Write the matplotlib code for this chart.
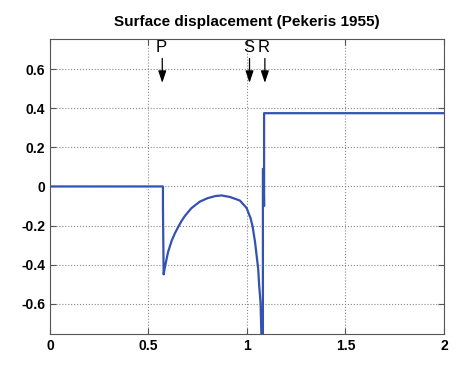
import numpy as np
import matplotlib
matplotlib.use('Agg')
import matplotlib.pyplot as plt

plt.rcParams['font.family'] = ['Liberation Sans', 'DejaVu Sans']

# surface displacement
xs = [0.0, 0.5735, 0.5735, 0.577, 0.582, 0.599, 0.618, 0.634, 0.650, 0.666,
      0.684, 0.717, 0.760, 0.800, 0.840, 0.871, 0.914, 0.964, 0.998, 1.019,
      1.029, 1.041, 1.049, 1.057, 1.062, 1.069, 1.073, 1.076, 1.081, 1.081,
      1.084, 1.087, 1.087, 2.0]
ys = [0.0, 0.0, -0.11, -0.45, -0.42, -0.337, -0.277, -0.24, -0.209, -0.18,
      -0.152, -0.112, -0.078, -0.06, -0.049, -0.046, -0.054, -0.072, -0.11, -0.164,
      -0.207, -0.284, -0.353, -0.421, -0.507, -0.593, -0.75, -1.0, -1.0, 0.09,
      0.09, -0.1, 0.375, 0.375]

# wave arrivals
arr_labels = ['P', 'S', 'R']
arr_x = [0.570, 1.013, 1.091]

xticks = [0, 0.5, 1, 1.5, 2]
xticklabels = ['0', '0.5', '1', '1.5', '2']
yticks = [-0.6, -0.4, -0.2, 0, 0.2, 0.4, 0.6]
yticklabels = ['-0.6', '-0.4', '-0.2', '0', '0.2', '0.4', '0.6']

fig = plt.figure(figsize=(4.74, 3.73), dpi=100)
ax = fig.add_axes([0.1055, 0.1046, 0.831, 0.791])

ax.plot(xs, ys, color='#3352b2', linewidth=1.6)

for lab, xa in zip(arr_labels, arr_x):
    ax.annotate('', xy=(xa, 0.53), xytext=(xa, 0.655),
                arrowprops=dict(arrowstyle='-|>,head_length=0.45,head_width=0.15',
                                color='black', lw=0.9,
                                mutation_scale=16, shrinkA=0, shrinkB=0))
    ax.text(xa - 0.004, 0.672, lab, ha='center', va='bottom', fontsize=12)

ax.set_xlim(0, 2)
ax.set_ylim(-0.755, 0.755)
ax.set_xticks(xticks)
ax.set_xticklabels(xticklabels, fontweight='bold', fontsize=10)
ax.set_yticks(yticks)
ax.set_yticklabels(yticklabels, fontweight='bold', fontsize=10)
ax.tick_params(direction='in', top=True, right=True, length=4, color='#555555')
ax.grid(True, linestyle=':', color='#888888', linewidth=0.8)
for s in ax.spines.values():
    s.set_color('#555555')
ax.set_title('Surface displacement (Pekeris 1955)', fontweight='bold',
             fontsize=11, pad=9)

fig.savefig('out.png', dpi=100, facecolor='white')
